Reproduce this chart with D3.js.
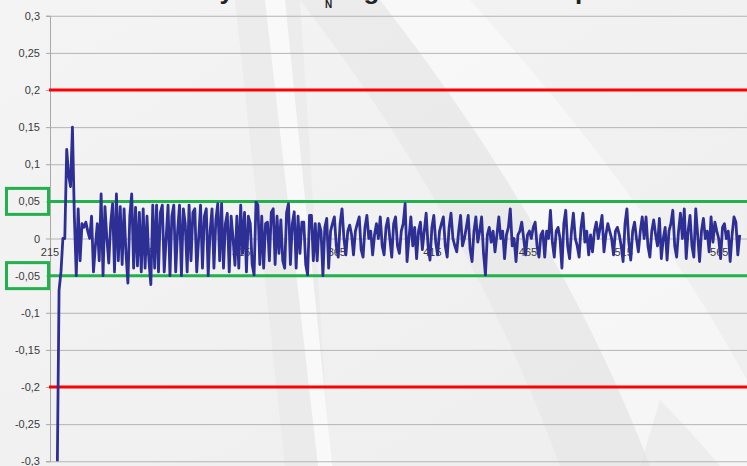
<!DOCTYPE html>
<meta charset="utf-8">
<script src="https://d3js.org/d3.v7.min.js"></script>
<style>
	body{
		margin:0;
		overflow:hidden;
		font-family:'Liberation Sans', Arial, sans-serif;
	}
</style>
<div id="chart"></div>
<script>

	// first category shown on the axis, one value per category after it
	var firstCategory = 215
	var values = [
		-1.6, -1.1, -0.75, -0.5, -0.33, -0.07, -0.045, 0.0, 0.0, 0.12,
		0.085, 0.07, 0.15, 0.03, -0.05, 0.04, -0.03, 0.02, 0.015, 0.022,
		0.01, 0.0, 0.03, -0.045, -0.01, 0.02, -0.03, 0.06, -0.05, 0.043,
		0.0, -0.033, 0.02, 0.047, -0.045, 0.06, -0.03, 0.043, -0.035, 0.04,
		-0.02, -0.06, 0.03, 0.06, -0.04, 0.042, -0.037, 0.035, -0.045, 0.04,
		-0.04, 0.03, -0.03, -0.062, 0.045, -0.04, 0.045, -0.045, 0.035, 0.045,
		-0.045, 0.0, 0.045, -0.05, 0.03, 0.045, -0.045, 0.01, 0.045, -0.05,
		0.04, 0.02, -0.045, 0.045, -0.03, 0.035, 0.04, -0.045, 0.0, 0.045,
		-0.04, 0.03, 0.04, -0.05, 0.01, 0.04, -0.04, 0.025, 0.047, -0.03,
		0.047, -0.04, 0.02, 0.034, -0.045, 0.03, 0.0, -0.036, 0.03, -0.04,
		0.045, -0.02, 0.035, -0.045, 0.03, 0.02, -0.035, -0.049, 0.049, 0.045,
		-0.035, 0.03, -0.04, 0.02, 0.022, -0.03, 0.035, 0.04, -0.035, 0.03,
		-0.02, 0.025, -0.03, -0.04, 0.035, 0.047, -0.035, 0.02, 0.036, -0.04,
		0.03, -0.02, 0.022, 0.022, -0.035, -0.049, 0.031, 0.031, -0.03, 0.02,
		-0.03, 0.02, 0.01, -0.05, 0.015, 0.027, -0.04, 0.01, 0.02, 0.029,
		-0.01, -0.025, 0.02, 0.04, 0.0, -0.022, 0.01, 0.018, 0.005, -0.022,
		0.01, 0.02, 0.029, -0.015, -0.025, 0.015, 0.031, 0.0, 0.01, -0.022,
		0.005, 0.02, 0.0, 0.029, -0.01, -0.022, 0.015, 0.027, 0.0, -0.025,
		0.02, 0.029, -0.01, -0.02, 0.01, 0.02, 0.047, -0.031, 0.0, 0.029,
		-0.01, 0.015, -0.027, 0.01, 0.022, -0.015, 0.01, 0.034, -0.01, -0.029,
		0.015, 0.031, -0.005, -0.022, 0.01, 0.02, 0.029, -0.01, -0.025, 0.015,
		0.034, 0.0, -0.01, -0.018, 0.01, 0.031, -0.01, 0.0, 0.015, 0.031,
		-0.015, -0.031, 0.01, 0.029, -0.005, 0.01, 0.029, -0.02, -0.049, 0.005,
		0.015, -0.005, 0.01, -0.018, 0.005, 0.029, 0.0, 0.01, -0.027, 0.005,
		0.015, 0.04, -0.01, 0.0, -0.031, 0.005, 0.01, 0.022, 0.0, -0.022,
		0.005, 0.01, 0.0, 0.015, 0.022, -0.01, -0.025, 0.005, 0.01, -0.025,
		0.01, 0.0, 0.038, -0.005, -0.025, 0.01, 0.015, 0.0, -0.04, 0.02,
		0.038, -0.01, -0.027, 0.01, 0.034, 0.0, -0.01, -0.025, 0.015, 0.034,
		-0.005, 0.01, -0.022, 0.005, -0.018, 0.01, 0.022, 0.0, 0.015, 0.031,
		-0.018, 0.005, 0.02, 0.01, 0.0, -0.022, 0.01, 0.015, 0.005, -0.01,
		-0.031, 0.02, 0.04, -0.005, -0.029, 0.01, 0.022, 0.0, -0.018, 0.01,
		0.029, 0.0, 0.029, -0.01, -0.025, 0.01, 0.025, 0.005, -0.01, 0.027,
		-0.027, 0.0, 0.015, -0.029, 0.01, 0.02, 0.038, -0.01, -0.025, 0.01,
		0.034, 0.0, 0.04, -0.027, 0.01, 0.031, -0.01, -0.025, 0.04, 0.005,
		-0.031, 0.01, 0.027, 0.0, 0.01, -0.018, 0.029, -0.005, 0.022, 0.01,
		0.0, -0.027, 0.015, 0.02, 0.0, 0.01, -0.031, 0.005, 0.029, 0.022,
		-0.022, 0.005
	]
	var categories = values.map(function(v,i){ return firstCategory+i })

	var xTicks = [215,265,315,365,415,465,515,565]
	var yTicks = [0.3,0.25,0.2,0.15,0.1,0.05,0,-0.05,-0.1,-0.15,-0.2,-0.25,-0.3]
	var redLimits = [0.2,-0.2]
	var greenLimits = [0.05,-0.05]

	// title text, only its lower edge is inside the picture
	var titleWords = ["Accuracy","of u","N","against","real","profile"]

	var w = 747
	var h = 466
	var left = 50

	var svg = d3.select("#chart").append("svg")
		.attr("width",w)
		.attr("height",h)

	// slide background with soft light beams
	var defs = svg.append("defs")
	var bg = defs.append("linearGradient").attr("id","bg").attr("x1",0).attr("y1",0).attr("x2",1).attr("y2",1)
	bg.append("stop").attr("offset","0%").attr("stop-color","#f4f4f4")
	bg.append("stop").attr("offset","100%").attr("stop-color","#eeeeee")
	svg.append("rect").attr("width",w).attr("height",h).attr("fill","url(#bg)")

	svg.append("path").attr("d","M235,0 L300,0 L330,466 L285,466 Z").attr("fill","#e4e4e4").attr("opacity",0.45)
	svg.append("path").attr("d","M265,0 L285,0 L332,466 L318,466 Z").attr("fill","#ffffff").attr("opacity",0.7)
	svg.append("path").attr("d","M300,0 L380,0 Q560,230 650,466 L560,466 Q470,220 300,0 Z").attr("fill","#e2e2e2").attr("opacity",0.4)
	svg.append("path").attr("d","M380,0 L470,0 Q650,200 747,380 L747,466 L650,466 Q560,230 380,0 Z").attr("fill","#ffffff").attr("opacity",0.45)
	svg.append("path").attr("d","M640,466 L720,466 Q690,430 660,400 Z").attr("fill","#e0e0e0").attr("opacity",0.4)

	// title
	var titleStyle = function(sel,size){
		sel.style("font-family","'Liberation Sans', Arial, sans-serif")
			.style("font-weight","bold")
			.style("font-size",size)
			.attr("fill","#222")
	}
	svg.append("text").attr("x",234).attr("y",-1).attr("text-anchor","end").text(titleWords[0]).call(titleStyle,"26px")
	svg.append("text").attr("x",248).attr("y",-1).text(titleWords[1]).call(titleStyle,"26px")
	svg.append("text").attr("x",325).attr("y",8).text(titleWords[2]).call(titleStyle,"10px")
	svg.append("text").attr("x",349).attr("y",-1).text(titleWords[3]).call(titleStyle,"26px")
	svg.append("text").attr("x",472).attr("y",-1).text(titleWords[4]).call(titleStyle,"26px")
	svg.append("text").attr("x",575).attr("y",-1).text(titleWords[5]).call(titleStyle,"26px")

	var x = d3.scaleLinear()
		.domain([firstCategory, firstCategory+360])
		.range([49.5, 49.5+360*1.912])
	var y = d3.scaleLinear()
		.domain([-0.3,0.3])
		.range([461.25,15.75])

	var fmt = d3.formatLocale({decimal:",",thousands:".",grouping:[3],currency:["",""],minus:"-"}).format(".2~f")

	// gridlines
	var grid = svg.append("g")
		.attr("transform","translate("+left+",0)")
		.call(d3.axisLeft(y).tickValues(yTicks).tickSize(-(w-left)).tickFormat(""))
	grid.select(".domain").remove()
	grid.selectAll("line").attr("stroke","#b4b4b4").attr("stroke-width",1)

	// y axis
	var yAxis = svg.append("g")
		.attr("transform","translate("+left+",0)")
		.call(d3.axisLeft(y).tickValues(yTicks).tickSize(4).tickPadding(6).tickFormat(fmt))
	yAxis.select(".domain").attr("stroke","#a8a8a8")
	yAxis.selectAll("line").attr("stroke","#a8a8a8")
	yAxis.selectAll("text")
		.style("font-family","'Liberation Sans', Arial, sans-serif")
		.style("font-size","11px")
		.attr("fill","#3a3a3a")

	// category labels sit just below zero
	var xAxis = svg.append("g")
		.attr("transform","translate(0,"+y(0)+")")
		.call(d3.axisBottom(x).tickValues(xTicks).tickSize(0).tickPadding(10).tickFormat(d3.format("d")))
	xAxis.select(".domain").remove()
	xAxis.selectAll("text")
		.style("font-family","'Liberation Sans', Arial, sans-serif")
		.style("font-size","11px")
		.attr("fill","#3a3a3a")

	// limit lines
	svg.selectAll(".redLine")
		.data(redLimits)
		.join("line")
		.attr("class","redLine")
		.attr("x1",left-1).attr("x2",w)
		.attr("y1",function(d){ return y(d) }).attr("y2",function(d){ return y(d) })
		.attr("stroke","#fe0000")
		.attr("stroke-width",3)

	svg.selectAll(".greenLine")
		.data(greenLimits)
		.join("line")
		.attr("class","greenLine")
		.attr("x1",left-2).attr("x2",w)
		.attr("y1",function(d){ return y(d) }).attr("y2",function(d){ return y(d) })
		.attr("stroke","#22b14c")
		.attr("stroke-width",3)

	svg.selectAll(".greenBox")
		.data(greenLimits)
		.join("rect")
		.attr("class","greenBox")
		.attr("x",6.5)
		.attr("y",function(d){ return y(d)-13 })
		.attr("width",42)
		.attr("height",26)
		.attr("fill","none")
		.attr("stroke","#22b14c")
		.attr("stroke-width",3)

	// series, clipped to the plot area
	defs.append("clipPath").attr("id","plotClip")
		.append("rect").attr("x",left).attr("y",y(0.3)).attr("width",w-left).attr("height",y(-0.3)-y(0.3))

	var line = d3.line()
		.x(function(d,i){ return x(categories[i]) })
		.y(function(d){ return y(d) })

	svg.append("path")
		.datum(values)
		.attr("clip-path","url(#plotClip)")
		.attr("d",line)
		.attr("fill","none")
		.attr("stroke","#2e2f94")
		.attr("stroke-width",2.8)
		.attr("stroke-linejoin","round")

</script>
